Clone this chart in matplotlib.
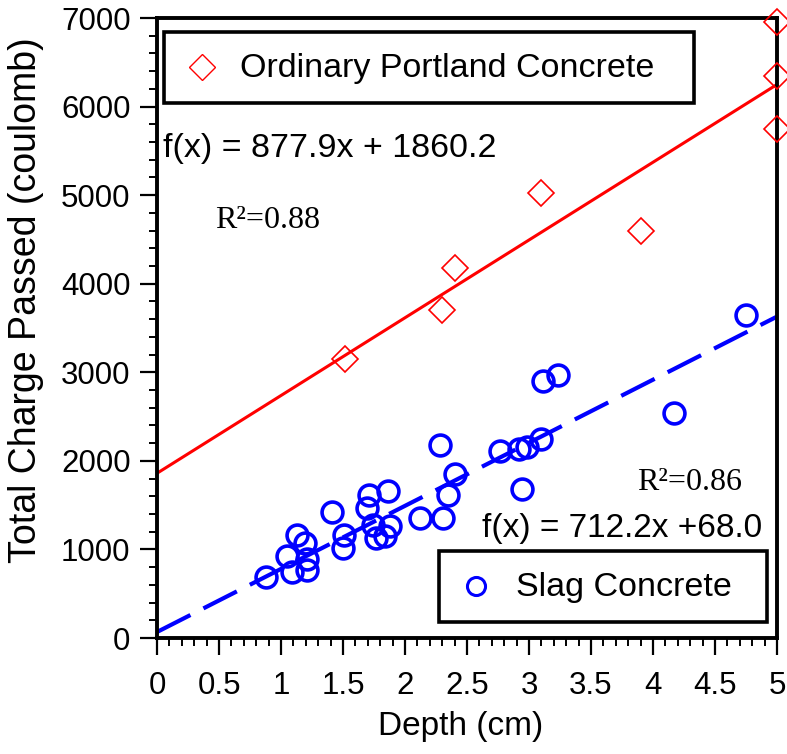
import numpy as np
import matplotlib
matplotlib.use("Agg")
import matplotlib.pyplot as plt
from matplotlib.patches import Rectangle
from matplotlib.ticker import MultipleLocator, FuncFormatter

plt.rcParams['font.family'] = ['Liberation Sans', 'DejaVu Sans']

# Ordinary Portland Concrete
opc_depth = [1.52, 2.30, 2.40, 3.10, 3.90, 5.0, 5.0, 5.0]
opc_charge = [3150, 3700, 4180, 5020, 4600, 5750, 6350, 6950]
opc_slope, opc_icpt = 877.9, 1860.2

# Slag concrete
slag_depth = [4.75, 3.11, 3.23, 4.17, 2.28, 3.10, 2.98, 2.92, 2.77, 2.94,
              2.40, 2.35, 2.31, 2.12, 1.86, 1.71, 1.69, 1.41, 1.88, 1.84,
              1.74, 1.77, 1.51, 1.50, 1.13, 1.19, 1.05, 1.21, 1.21, 1.09, 0.88]
slag_charge = [3650, 2900, 2970, 2540, 2180, 2250, 2160, 2130, 2110, 1680,
               1850, 1620, 1360, 1360, 1660, 1610, 1470, 1420, 1260, 1150,
               1280, 1130, 1160, 1020, 1160, 1070, 930, 890, 770, 740, 690]
slag_slope, slag_icpt = 712.2, 68.0

fig = plt.figure(figsize=(7.87, 7.54), dpi=100)
ax = fig.add_axes([0.1995, 0.1538, 0.7878, 0.8223])

xs = np.array([0, 5])
ax.plot(xs, opc_slope * xs + opc_icpt, color='#ff0000', lw=2.2, zorder=2)
ax.plot(xs, slag_slope * xs + slag_icpt, color='#0000ff', lw=3,
        dashes=(9, 3.5), zorder=2)

ax.plot(opc_depth, opc_charge, ls='none', marker='D', ms=13, mfc='none',
        mec='#ff0000', mew=1.2, clip_on=False, zorder=4)
ax.plot(slag_depth, slag_charge, ls='none', marker='o', ms=15, mfc='none',
        mec='#0000ff', mew=2.6, clip_on=False, zorder=4)

ax.set_xlim(0, 5)
ax.set_ylim(0, 7000)
ax.xaxis.set_major_locator(MultipleLocator(0.5))
ax.xaxis.set_minor_locator(MultipleLocator(0.1))
ax.yaxis.set_major_locator(MultipleLocator(1000))
ax.yaxis.set_minor_locator(MultipleLocator(200))
ax.xaxis.set_major_formatter(FuncFormatter(lambda v, p: f"{v:g}"))
ax.tick_params(which='major', direction='out', length=12, width=1.6,
               labelsize=22.5)
ax.tick_params(which='minor', direction='out', length=6, width=1.4)
ax.tick_params(axis='x', which='major', pad=12)
ax.tick_params(axis='y', which='major', pad=7)
for s in ax.spines.values():
    s.set_linewidth(2.8)

ax.set_xlabel("Depth (cm)", fontsize=24)
ax.set_ylabel("Total Charge Passed (coulomb)", fontsize=27)
ax.xaxis.set_label_coords(0.49, -0.118)
ax.yaxis.set_label_coords(-0.183, 0.545)

# legend boxes
ax.add_patch(Rectangle((0.0113, 0.863), 0.855, 0.114, transform=ax.transAxes,
                       fill=False, lw=2.6, ec='black', zorder=5))
ax.plot([0.0726], [0.921], transform=ax.transAxes, marker='D', ms=13,
        mfc='none', mec='#ff0000', mew=1.0, ls='none', zorder=6)
ax.text(0.134, 0.919, "Ordinary Portland Concrete", transform=ax.transAxes,
        fontsize=24.5, va='center', ha='left', zorder=6)

ax.add_patch(Rectangle((0.455, 0.0258), 0.529, 0.114, transform=ax.transAxes,
                       facecolor='white', lw=2.6, ec='black', zorder=5))
ax.plot([0.5145], [0.0839], transform=ax.transAxes, marker='o', ms=13,
        mfc='none', mec='#0000ff', mew=2.2, ls='none', zorder=6)
ax.text(0.579, 0.082, "Slag Concrete", transform=ax.transAxes,
        fontsize=24.5, va='center', ha='left', zorder=6)

# fit annotations
ax.text(0.0097, 0.776, f"f(x) = {opc_slope:.1f}x + {opc_icpt:.1f}",
        transform=ax.transAxes, fontsize=24.5, va='baseline')
ax.text(0.0935, 0.661, "R²=0.88", transform=ax.transAxes, fontsize=23,
        family='Liberation Serif', va='baseline')
ax.text(0.774, 0.239, "R²=0.86", transform=ax.transAxes, fontsize=23,
        family='Liberation Serif', va='baseline')
ax.text(0.524, 0.163, f"f(x) = {slag_slope:.1f}x +{slag_icpt:.1f}",
        transform=ax.transAxes, fontsize=24, va='baseline')

fig.savefig("out.png", dpi=100)
